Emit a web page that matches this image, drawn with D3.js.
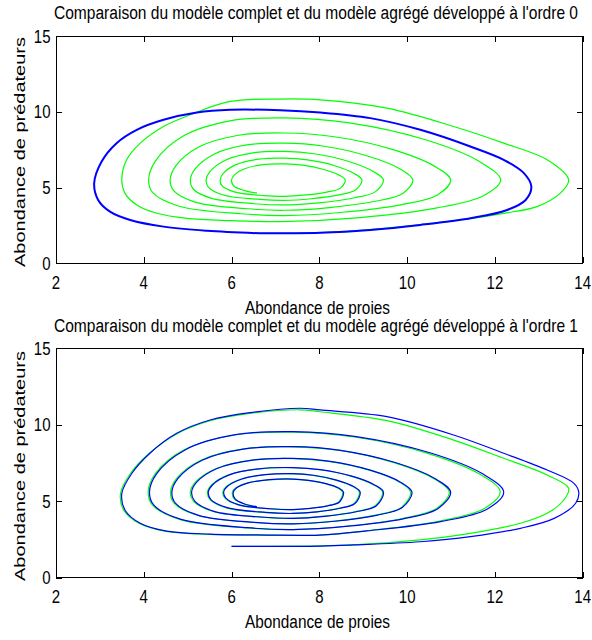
<!DOCTYPE html>
<html>
<head>
<meta charset="utf-8">
<script src="https://cdn.jsdelivr.net/npm/d3@7"></script>
<style>
  body { margin: 0; background: #fff; }
  text { font-family: "Liberation Sans", Arial, Helvetica, sans-serif; fill: #000; }
</style>
</head>
<body>
<svg id="fig" width="592" height="640"></svg>
<script>
// Axis ticks and labels
const xTicks = [2, 4, 6, 8, 10, 12, 14];
const yTicks = [0, 5, 10, 15];
const xLabel = "Abondance de proies";
const yLabel = "Abondance de prédateurs";
const panelTitles = [
  "Comparaison du modèle complet et du modèle agrégé développé à l'ordre 0",
  "Comparaison du modèle complet et du modèle agrégé développé à l'ordre 1"
];

// Trajectories (prey, predators)
// Complete model, panel 1: one closed cycle
const completeA = [
  [6.65,1.98],[8.02,2.02],[9.16,2.20],[10.30,2.53],[11.44,2.97],[12.28,3.52],[12.70,4.18],
  [12.83,5.06],[12.66,5.95],[12.20,6.83],[11.44,7.71],[10.30,8.81],[9.16,9.58],[8.02,9.95],
  [7.11,10.10],[5.97,10.13],[5.21,9.95],[4.45,9.47],[3.84,8.81],[3.38,7.93],[3.04,6.72],
  [2.87,5.29],[2.96,4.18],[3.23,3.41],[3.69,2.86],[4.45,2.42],[5.44,2.15],[6.65,1.98]
];

// Aggregated model at order 0: inward spiral
const aggregatedA = [
  [6.65,1.98],[8.02,2.03],[9.16,2.22],[10.30,2.55],[11.44,2.95],[12.2,3.3],[12.96,3.74],
  [13.49,4.63],[13.68,5.5],[13.19,6.83],[12.2,7.93],[11.06,9.03],[9.54,10.24],[8.02,10.79],[7.11,10.84],
  [5.97,10.68],[5.06,9.8],[4.45,9.03],[3.92,7.93],[3.61,6.83],[3.50,5.62],[3.57,4.63],[3.84,3.85],
  [4.30,3.30],[4.98,2.97],[5.97,2.82],[7.11,2.75],
  [8.93,3.02],[10.65,3.64],[11.74,4.46],[12.13,5.5],[11.64,6.73],[10.4,8.17],[8.68,9.27],[7.2,9.6],
  [5.96,9.4],[4.88,8.37],[4.26,6.73],[4.11,5.5],[4.2,4.68],[4.79,3.78],[6.21,3.27],[7.2,3.15],
  [8.53,3.37],[9.85,3.86],[10.69,4.51],[10.99,5.5],[10.61,6.43],[9.66,7.52],[8.34,8.35],[7.2,8.6],
  [6.16,8.45],[5.25,7.67],[4.73,6.43],[4.6,5.5],[4.68,4.8],[5.17,4.04],[6.37,3.6],[7.2,3.5],
  [8.23,3.68],[9.25,4.08],[9.9,4.61],[10.13,5.5],[9.84,6.23],[9.1,7.08],[8.08,7.74],[7.2,7.93],
  [6.34,7.81],[5.6,7.2],[5.17,6.23],[5.06,5.5],[5.12,4.92],[5.53,4.3],[6.52,3.93],[7.2,3.85],
  [7.99,3.99],[8.78,4.31],[9.28,4.73],[9.46,5.5],[9.23,6.06],[8.67,6.72],[7.88,7.23],[7.2,7.38],
  [6.49,7.29],[5.87,6.82],[5.51,6.06],[5.42,5.5],[5.47,5.03],[5.81,4.51],[6.63,4.22],[7.2,4.15],
  [7.82,4.26],[8.44,4.51],[8.83,4.85],[8.97,5.5],[8.79,5.93],[8.35,6.44],[7.73,6.82],[7.2,6.94],
  [6.62,6.87],[6.1,6.51],[5.81,5.93],[5.74,5.5],[5.78,5.12],[6.06,4.71],[6.73,4.47],[7.2,4.42],
  [7.69,4.51],[8.17,4.7],[8.48,4.96],[8.59,5.5],[8.45,5.82],[8.1,6.19],[7.62,6.48],[7.2,6.56],
  [6.72,6.51],[6.3,6.24],[6.06,5.82],[6.0,5.5],[6.05,5.1],[6.3,4.8],[6.58,4.63]
];

// Complete model, panel 2: inward spiral
const completeB = [
  [6.0,2.05],[8.02,2.07],[8.78,2.14],[10.30,2.35],[11.44,2.68],[12.58,3.23],[13.35,3.88],
  [13.84,4.87],[13.91,5.6],[13.8,6.17],[13.19,7.04],[12.2,8.14],[11.06,9.33],[9.54,10.53],[8.02,10.97],[7.56,11.08],
  [6.42,10.79],[5.51,10.31],[4.75,9.44],[4.14,8.14],[3.73,6.83],[3.50,5.52],[3.57,4.43],[3.92,3.56],
  [4.52,3.05],[5.51,2.85],[6.8,2.79],[8.0,2.79],
  [9.08,3.06],[10.76,3.67],[11.82,4.48],[12.2,5.6],[11.72,6.79],[10.52,8.17],[8.84,9.23],[7.4,9.55],
  [6.09,9.35],[4.95,8.37],[4.29,6.79],[4.13,5.6],[4.23,4.74],[4.85,3.81],[6.35,3.27],[7.4,3.15],
  [8.66,3.37],[9.91,3.85],[10.7,4.51],[10.99,5.6],[10.63,6.49],[9.73,7.53],[8.48,8.33],[7.4,8.57],
  [6.3,8.42],[5.33,7.68],[4.78,6.49],[4.64,5.6],[4.72,4.87],[5.25,4.08],[6.52,3.62],[7.4,3.52],
  [8.35,3.69],[9.3,4.08],[9.89,4.59],[10.11,5.6],[9.84,6.26],[9.16,7.03],[8.21,7.62],[7.4,7.8],
  [6.48,7.69],[5.67,7.14],[5.21,6.26],[5.09,5.6],[5.16,5.0],[5.6,4.34],[6.66,3.97],[7.4,3.88],
  [8.12,4.01],[8.84,4.31],[9.3,4.71],[9.46,5.6],[9.25,6.08],[8.74,6.64],[8.02,7.07],[7.4,7.2],
  [6.63,7.12],[5.95,6.72],[5.57,6.08],[5.47,5.6],[5.53,5.11],[5.9,4.58],[6.78,4.27],[7.4,4.2],
  [7.94,4.3],[8.47,4.54],[8.81,4.85],[8.93,5.6],[8.78,5.96],[8.39,6.38],[7.86,6.7],[7.4,6.8],
  [6.77,6.74],[6.22,6.44],[5.9,5.96],[5.82,5.6],[5.87,5.2],[6.17,4.76],[6.89,4.51],[7.4,4.45],
  [7.8,4.53],[8.21,4.71],[8.46,4.95],[8.55,5.6],[8.44,5.86],[8.15,6.15],[7.75,6.37],[7.4,6.45],
  [6.86,6.41],[6.38,6.2],[6.11,5.86],[6.04,5.6],[6.08,5.15],[6.3,4.82],[6.58,4.64]
];

// Aggregated model at order 1
const aggregatedB = [
  [6.0,2.05],[8.02,2.08],[8.78,2.15],[10.3,2.47],[11.44,2.9],[12.58,3.56],[13.19,4.21],
  [13.57,5.08],[13.68,5.85],[13.19,6.72],[12.2,7.81],[11.06,9.0],[9.54,10.27],[8.02,10.85],[7.56,10.98],
  [6.42,10.74],[5.51,10.26],[4.75,9.4],[4.12,8.12],[3.7,6.83],[3.47,5.52],[3.54,4.43],[3.9,3.54],
  [4.5,3.03],[5.51,2.83],[6.8,2.78],[8.0,2.79],
  [9.08,3.07],[10.74,3.7],[11.76,4.52],[12.12,5.62],[11.64,6.79],[10.45,8.15],[8.8,9.2],[7.4,9.52],
  [6.07,9.33],[4.92,8.36],[4.26,6.79],[4.1,5.6],[4.2,4.74],[4.83,3.8],[6.35,3.26],[7.4,3.15],
  [8.66,3.38],[9.89,3.87],[10.67,4.53],[10.96,5.6],[10.6,6.49],[9.7,7.52],[8.47,8.32],[7.4,8.56],
  [6.28,8.42],[5.3,7.68],[4.75,6.49],[4.61,5.6],[4.69,4.87],[5.23,4.07],[6.52,3.61],[7.4,3.52],
  [8.35,3.7],[9.28,4.09],[9.87,4.6],[10.08,5.6],[9.82,6.26],[9.14,7.03],[8.2,7.61],[7.4,7.79],
  [6.46,7.69],[5.65,7.14],[5.18,6.26],[5.06,5.6],[5.13,5.0],[5.58,4.33],[6.66,3.96],[7.4,3.88],
  [8.12,4.02],[8.83,4.32],[9.28,4.72],[9.44,5.6],[9.23,6.08],[8.72,6.64],[8.01,7.06],[7.4,7.19],
  [6.62,7.12],[5.93,6.72],[5.55,6.08],[5.45,5.6],[5.51,5.11],[5.88,4.57],[6.78,4.26],[7.4,4.2],
  [7.94,4.31],[8.46,4.55],[8.79,4.86],[8.91,5.6],[8.76,5.96],[8.38,6.38],[7.86,6.69],[7.4,6.79],
  [6.76,6.74],[6.2,6.44],[5.88,5.96],[5.8,5.6],[5.85,5.2],[6.15,4.76],[6.89,4.5],[7.4,4.45],
  [7.8,4.54],[8.2,4.72],[8.44,4.96],[8.53,5.6],[8.42,5.86],[8.14,6.15],[7.75,6.36],[7.4,6.44],
  [6.86,6.4],[6.37,6.2],[6.09,5.86],[6.02,5.6],[6.06,5.15],[6.29,4.82],[6.58,4.64]
];

// Layout
const svg = d3.select("#fig");
const stretch = 1.27;              // vertical stretch of the horizontal labels
const plotLeft = 56, plotRight = 582.7;

const panels = [
  { top: 36, bottom: 263.3, titleY: 19, xLabelY: 314, yLabelMid: 152,
    title: panelTitles[0], aggregated: aggregatedA, complete: completeA, completeWidth: 2 },
  { top: 348.3, bottom: 577.7, titleY: 332, xLabelY: 627.5, yLabelMid: 466,
    title: panelTitles[1], aggregated: aggregatedB, complete: completeB, completeWidth: 1.2 }
];

function hText(g, str, x, y, size, anchor, len) {
  const t = g.append("text")
    .attr("transform", `translate(${x},${y}) scale(1,${stretch})`)
    .attr("font-size", size)
    .attr("text-anchor", anchor)
    .text(str);
  if (len) t.attr("textLength", len).attr("lengthAdjust", "spacingAndGlyphs");
  return t;
}

panels.forEach(p => {
  const x = d3.scaleLinear().domain([2, 14]).range([plotLeft, plotRight]);
  const y = d3.scaleLinear().domain([0, 15]).range([p.bottom, p.top]);
  const g = svg.append("g");

  // curves
  const line = d3.line().x(d => x(d[0])).y(d => y(d[1])).curve(d3.curveCatmullRom.alpha(0.5));
  g.append("path").datum(p.aggregated)
    .attr("d", line).attr("fill", "none").attr("stroke", "#00ff00").attr("stroke-width", 1.2);
  g.append("path").datum(p.complete)
    .attr("d", line).attr("fill", "none").attr("stroke", "#0000ff").attr("stroke-width", p.completeWidth);

  // axes with inward ticks on all four sides
  const tick = 6;
  const axes = [
    [d3.axisBottom(x).tickValues(xTicks), `translate(0,${p.bottom})`],
    [d3.axisTop(x).tickValues(xTicks), `translate(0,${p.top})`],
    [d3.axisLeft(y).tickValues(yTicks), `translate(${plotLeft},0)`],
    [d3.axisRight(y).tickValues(yTicks), `translate(${plotRight},0)`]
  ];
  axes.forEach(([ax, tr]) => {
    const a = g.append("g").attr("transform", tr)
      .call(ax.tickSizeInner(-tick).tickSizeOuter(0).tickFormat(""));
    a.select(".domain").remove();
    a.selectAll("line").attr("stroke", "#000").attr("stroke-width", 1).attr("shape-rendering", "crispEdges");
  });
  g.append("rect")
    .attr("x", plotLeft).attr("y", p.top)
    .attr("width", plotRight - plotLeft).attr("height", p.bottom - p.top)
    .attr("fill", "none").attr("stroke", "#000").attr("stroke-width", 1)
    .attr("shape-rendering", "crispEdges");

  // tick labels
  xTicks.forEach(v => hText(g, String(v), x(v), p.bottom + 25.5, 15, "middle"));
  yTicks.forEach(v => hText(g, String(v), 50.5, y(v) + 6.6, 15, "end"));

  // title and axis labels
  hText(g, p.title, 54, p.titleY, 15, "start", 524);
  hText(g, xLabel, 245, p.xLabelY, 15, "start", 145);
  g.append("text")
    .attr("transform", `translate(24.5,${p.yLabelMid}) rotate(-90)`)
    .attr("font-size", 15.5)
    .attr("text-anchor", "middle")
    .attr("textLength", 230).attr("lengthAdjust", "spacingAndGlyphs")
    .text(yLabel);
});
</script>
</body>
</html>
